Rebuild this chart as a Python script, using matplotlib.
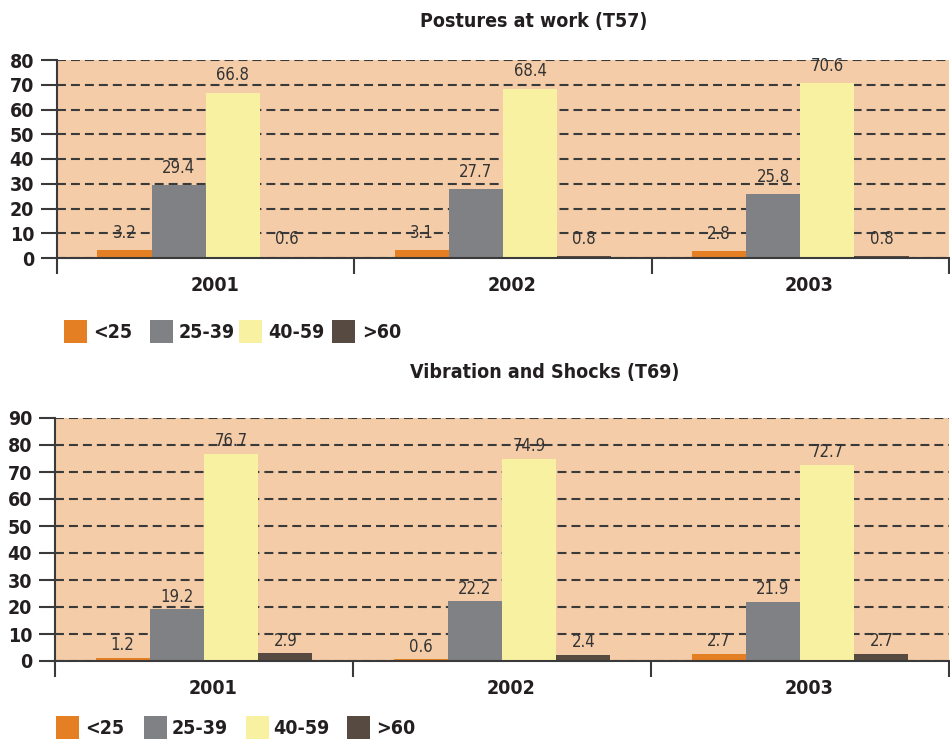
import matplotlib
matplotlib.use("Agg")
import matplotlib.pyplot as plt
from matplotlib.patches import Rectangle
import numpy as np

# ---- data ----
years = ["2001", "2002", "2003"]
age_groups = ["<25", "25-39", "40-59", ">60"]

postures_lt25 = [3.2, 3.1, 2.8]
postures_25_39 = [29.4, 27.7, 25.8]
postures_40_59 = [66.8, 68.4, 70.6]
postures_gt60 = [0.6, 0.8, 0.8]

vibration_lt25 = [1.2, 0.6, 2.7]
vibration_25_39 = [19.2, 22.2, 21.9]
vibration_40_59 = [76.7, 74.9, 72.7]
vibration_gt60 = [2.9, 2.4, 2.7]

postures_ticks = [0, 10, 20, 30, 40, 50, 60, 70, 80]
vibration_ticks = [0, 10, 20, 30, 40, 50, 60, 70, 80, 90]

title_top = "Postures at work (T57)"
title_bottom = "Vibration and Shocks (T69)"

# ---- style ----
colors = ["#E57F24", "#808184", "#F8F1A2", "#574A41"]
bg = "#F5CCA8"
dark = "#3a3a3a"
FAM = ["Liberation Sans Narrow", "DejaVu Sans"]
plt.rcParams["font.family"] = FAM
plt.rcParams["font.stretch"] = "condensed"

W, H = 950, 740
fig = plt.figure(figsize=(W / 100, H / 100), dpi=100)


def fx(px):
    return px / W


def fy(py):
    return 1 - py / H


def draw_panel(rect, series, ticks, title, title_xy, label_offset, legend_pos):
    ax = fig.add_axes(rect)
    ax.set_facecolor(bg)
    n = len(series)
    w = 0.182
    x = np.arange(len(years))
    for i, (vals, c) in enumerate(zip(series, colors)):
        pos = x + (i - (n - 1) / 2) * w
        bars = ax.bar(pos, vals, width=w, color=c, zorder=3, linewidth=0)
        for b, v in zip(bars, vals):
            ax.annotate(f"{v:.1f}", (b.get_x() + b.get_width() / 2, v),
                        xytext=(0, label_offset), textcoords="offset points",
                        ha="center", va="bottom", fontsize=12,
                        color="#333333", zorder=5)
    ax.set_xlim(-0.5, len(years) - 0.5)
    ax.set_ylim(0, ticks[-1])
    ax.set_yticks(ticks)
    ax.set_yticklabels([str(t) for t in ticks], fontsize=14, fontweight="bold",
                       color="#231f20")
    ax.tick_params(axis="y", direction="out", length=11.5, width=1.5,
                   color=dark, pad=5)
    # group boundaries as major x ticks, years as minor labels
    ax.set_xticks(np.arange(len(years) + 1) - 0.5)
    ax.set_xticklabels([])
    ax.tick_params(axis="x", which="major", direction="out", length=11.5,
                   width=1.5, color=dark)
    ax.set_xticks(x + 0.03, minor=True)
    ax.set_xticklabels(years, minor=True, fontsize=14, fontweight="bold",
                       color="#231f20")
    ax.tick_params(axis="x", which="minor", length=0, pad=13)
    ax.yaxis.grid(True, color=dark, linewidth=1.5, linestyle=(0, (4.3, 2.4)),
                  zorder=1)
    ax.set_axisbelow(True)
    for s in ("top", "right"):
        ax.spines[s].set_visible(False)
    for s in ("left", "bottom"):
        ax.spines[s].set_color(dark)
        ax.spines[s].set_linewidth(1.5)
        ax.spines[s].set_zorder(4)
    fig.text(fx(title_xy[0]), fy(title_xy[1]), title, ha="center",
             va="center", fontsize=14, fontweight="bold", color="#231f20")
    # legend
    sq_x, txt_x, y_top = legend_pos
    for name, c, sx, tx in zip(age_groups, colors, sq_x, txt_x):
        fig.add_artist(Rectangle((fx(sx), fy(y_top + 23)), fx(23), 23 / H,
                                 transform=fig.transFigure, color=c,
                                 linewidth=0))
        fig.text(fx(tx), fy(y_top + 12), name, ha="left", va="center",
                 fontsize=14, fontweight="bold", color="#231f20")
    return ax


# top panel
draw_panel([fx(57), fy(258), fx(949) - fx(57), (258 - 60) / H],
           [postures_lt25, postures_25_39, postures_40_59, postures_gt60],
           postures_ticks, title_top, (534, 22), 6,
           ([64, 150, 239, 332], [93, 179, 268, 362], 320))

# bottom panel
draw_panel([fx(55), fy(661), fx(949) - fx(55), (661 - 418) / H],
           [vibration_lt25, vibration_25_39, vibration_40_59, vibration_gt60],
           vibration_ticks, title_bottom, (545, 373), 2.5,
           ([56, 144, 246, 347], [85, 172, 273, 376], 716))

fig.savefig("out.png", dpi=100)
